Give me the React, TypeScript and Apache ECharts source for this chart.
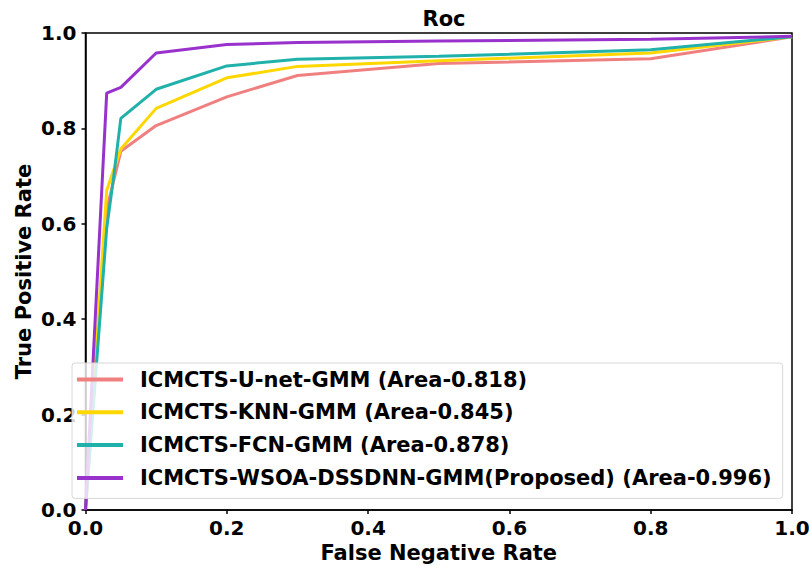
import React, { useEffect, useRef } from "react";
import * as echarts from "echarts";

const seriesNames = [
  "ICMCTS-U-net-GMM (Area-0.818)",
  "ICMCTS-KNN-GMM (Area-0.845)",
  "ICMCTS-FCN-GMM (Area-0.878)",
  "ICMCTS-WSOA-DSSDNN-GMM(Proposed) (Area-0.996)",
];
const colors = ["#F08080", "#FFD700", "#20B2AA", "#9932CC"];

const unetX = [0, 0.03, 0.05, 0.1, 0.2, 0.3, 0.5, 0.8, 1.0];
const unetY = [0, 0.63, 0.752, 0.806, 0.866, 0.911, 0.936, 0.946, 0.992];
const knnX = [0, 0.03, 0.05, 0.1, 0.2, 0.3, 0.5, 0.8, 1.0];
const knnY = [0, 0.67, 0.757, 0.842, 0.906, 0.93, 0.942, 0.958, 0.992];
const fcnX = [0, 0.03, 0.04, 0.05, 0.1, 0.2, 0.3, 0.5, 0.8, 1.0];
const fcnY = [0, 0.59, 0.7, 0.821, 0.882, 0.931, 0.945, 0.951, 0.965, 0.992];
const propX = [0, 0.03, 0.05, 0.1, 0.2, 0.3, 0.5, 0.8, 1.0];
const propY = [0, 0.874, 0.886, 0.958, 0.976, 0.98, 0.983, 0.987, 0.993];

const xs = [unetX, knnX, fcnX, propX];
const ys = [unetY, knnY, fcnY, propY];

const FONT = "DejaVu Sans";

export default function App() {
  const ref = useRef<HTMLDivElement>(null);
  useEffect(() => {
    if (!ref.current) return;
    const chart = echarts.init(ref.current, null, { renderer: "svg" });
    const axisCommon = {
      type: "value" as const,
      min: 0,
      max: 1,
      interval: 0.2,
      splitLine: { show: false },
      axisLine: { show: true, lineStyle: { color: "#000", width: 1.5 } },
      axisTick: { show: true, inside: false, length: 4, lineStyle: { color: "#000", width: 1.5 } },
      nameTextStyle: { fontFamily: FONT, fontWeight: "bold" as const, fontSize: 21, color: "#000" },
      axisLabel: {
        fontFamily: FONT,
        fontWeight: "bold" as const,
        fontSize: 20,
        color: "#000",
        formatter: (v: number) => v.toFixed(1),
      },
    };
    chart.setOption({
      animation: false,
      backgroundColor: "#fff",
      title: {
        text: "Roc",
        left: 439,
        textAlign: "center",
        top: 3,
        textStyle: { fontFamily: FONT, fontWeight: "bold", fontSize: 21, color: "#000" },
      },
      grid: {
        left: 85.5,
        right: 17,
        top: 33,
        bottom: 56,
        outerBoundsMode: "none",
        containLabel: false,
        show: true,
        borderColor: "#000",
        borderWidth: 1.5,
        backgroundColor: "transparent",
      },
      xAxis: {
        ...axisCommon,
        name: "False Negative Rate",
        nameLocation: "middle",
        nameGap: 32,
        axisLabel: { ...axisCommon.axisLabel, margin: 8 },
      },
      yAxis: {
        ...axisCommon,
        name: "True Positive Rate",
        nameLocation: "middle",
        nameGap: 51,
        nameMoveOverlap: false,
        axisLabel: { ...axisCommon.axisLabel, margin: 9 },
      },
      legend: {
        orient: "vertical",
        left: 72,
        top: 363,
        padding: [6, 11, 10, 5],
        itemGap: 11.8,
        itemWidth: 46,
        itemHeight: 4,
        icon: "rect",
        backgroundColor: "rgba(255,255,255,0.8)",
        borderColor: "#d8d8d8",
        borderWidth: 1,
        borderRadius: 3,
        data: seriesNames,
        textStyle: {
          fontFamily: FONT,
          fontWeight: "bold",
          fontSize: 21,
          color: "#000",
          padding: [0, 0, 0, 12],
          lineHeight: 21,
        },
      },
      series: seriesNames.map((name, i) => ({
        name,
        type: "line",
        showSymbol: false,
        symbol: "none",
        data: xs[i].map((x, j) => [x, ys[i][j]]),
        lineStyle: { color: colors[i], width: 3 },
        itemStyle: { color: colors[i] },
        clip: true,
      })),
    });
    return () => chart.dispose();
  }, []);
  return <div ref={ref} style={{ width: 809, height: 566, position: "absolute", left: 0, top: 0 }} />;
}
